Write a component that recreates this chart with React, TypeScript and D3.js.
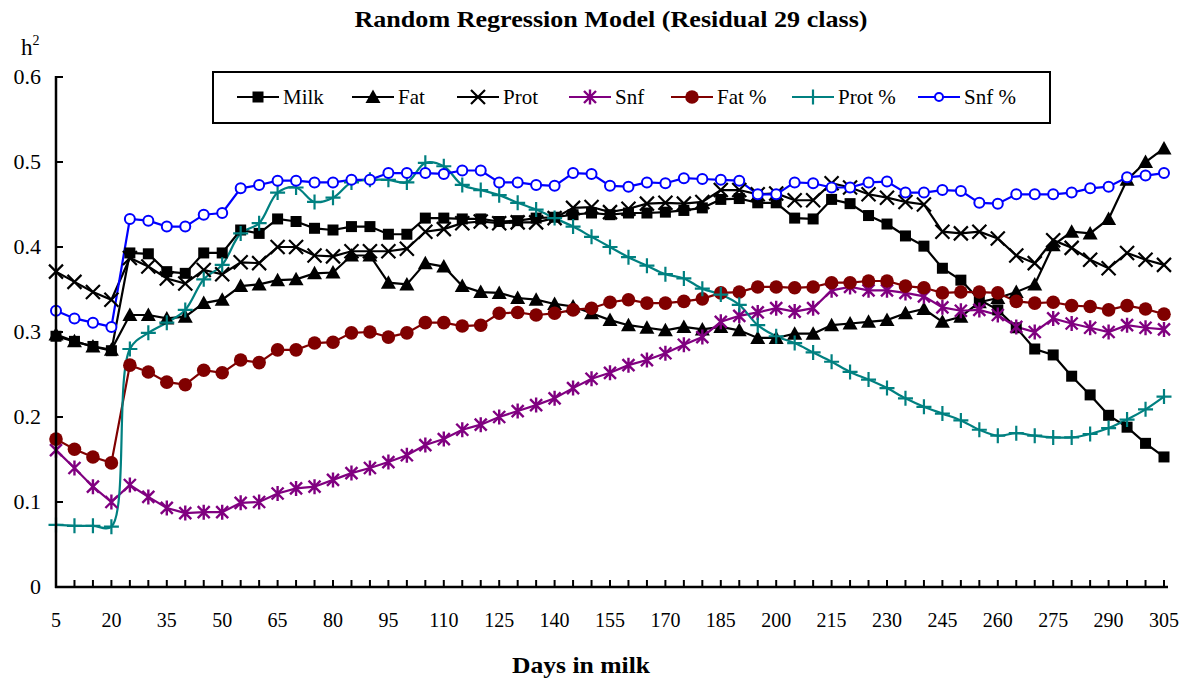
import React from "react";
import * as d3 from "d3";

const days: number[] = [5,10,15,20,25,30,35,40,45,50,55,60,65,70,75,80,85,90,95,100,105,110,115,120,125,130,135,140,145,150,155,160,165,170,175,180,185,190,195,200,205,210,215,220,225,230,235,240,245,250,255,260,265,270,275,280,285,290,295,300,305];
const xTickLabels: number[] = [5,20,35,50,65,80,95,110,125,140,155,170,185,200,215,230,245,260,275,290,305];
const yTicks: number[] = [0,0.1,0.2,0.3,0.4,0.5,0.6];

const milk: number[] = [0.295,0.289,0.283,0.278,0.393,0.392,0.371,0.369,0.393,0.393,0.42,0.416,0.433,0.43,0.422,0.42,0.424,0.424,0.415,0.415,0.434,0.434,0.433,0.433,0.43,0.431,0.434,0.435,0.438,0.44,0.438,0.44,0.44,0.441,0.443,0.446,0.456,0.457,0.452,0.452,0.434,0.433,0.456,0.451,0.437,0.427,0.413,0.401,0.375,0.361,0.338,0.326,0.305,0.28,0.273,0.248,0.226,0.202,0.188,0.169,0.153];
const fat: number[] = [0.297,0.289,0.283,0.279,0.32,0.32,0.316,0.318,0.334,0.338,0.354,0.356,0.361,0.362,0.369,0.37,0.39,0.39,0.358,0.356,0.381,0.377,0.354,0.347,0.346,0.34,0.338,0.333,0.33,0.322,0.314,0.308,0.305,0.302,0.306,0.303,0.306,0.302,0.293,0.293,0.298,0.298,0.308,0.31,0.312,0.314,0.322,0.327,0.312,0.318,0.335,0.34,0.347,0.356,0.402,0.418,0.416,0.433,0.479,0.5,0.516];
const prot: number[] = [0.371,0.359,0.347,0.338,0.387,0.377,0.363,0.357,0.373,0.368,0.382,0.381,0.4,0.4,0.39,0.389,0.395,0.395,0.395,0.398,0.418,0.421,0.428,0.43,0.428,0.429,0.429,0.434,0.446,0.447,0.441,0.445,0.451,0.452,0.451,0.453,0.467,0.467,0.462,0.463,0.455,0.455,0.475,0.47,0.462,0.458,0.453,0.45,0.418,0.416,0.418,0.41,0.39,0.381,0.408,0.399,0.385,0.375,0.393,0.385,0.379];
const snf: number[] = [0.161,0.14,0.118,0.1,0.12,0.106,0.093,0.087,0.088,0.088,0.099,0.1,0.11,0.116,0.118,0.126,0.134,0.14,0.147,0.155,0.167,0.174,0.185,0.191,0.2,0.207,0.214,0.222,0.234,0.245,0.252,0.261,0.267,0.275,0.285,0.294,0.312,0.319,0.323,0.328,0.324,0.328,0.349,0.353,0.349,0.349,0.346,0.342,0.329,0.325,0.326,0.32,0.306,0.3,0.316,0.31,0.305,0.3,0.308,0.305,0.303];
const fatPct: number[] = [0.174,0.162,0.153,0.146,0.261,0.253,0.241,0.238,0.255,0.252,0.267,0.264,0.279,0.279,0.287,0.288,0.299,0.3,0.294,0.299,0.311,0.311,0.307,0.308,0.322,0.323,0.32,0.322,0.326,0.328,0.335,0.338,0.334,0.334,0.336,0.339,0.346,0.347,0.353,0.353,0.352,0.353,0.358,0.358,0.36,0.36,0.354,0.352,0.346,0.347,0.347,0.346,0.336,0.334,0.335,0.331,0.33,0.326,0.331,0.327,0.321];
const protPct: number[] = [0.073,0.072,0.072,0.071,0.28,0.299,0.311,0.326,0.362,0.379,0.416,0.428,0.464,0.47,0.453,0.458,0.476,0.479,0.479,0.476,0.499,0.495,0.473,0.467,0.461,0.452,0.444,0.434,0.424,0.412,0.4,0.388,0.378,0.368,0.363,0.351,0.344,0.332,0.308,0.295,0.287,0.276,0.265,0.253,0.244,0.234,0.222,0.212,0.204,0.196,0.185,0.178,0.181,0.178,0.176,0.176,0.18,0.187,0.197,0.209,0.224];
const snfPct: number[] = [0.325,0.316,0.311,0.306,0.433,0.431,0.424,0.424,0.438,0.44,0.469,0.473,0.478,0.478,0.476,0.476,0.479,0.479,0.487,0.487,0.487,0.486,0.49,0.49,0.476,0.476,0.473,0.472,0.487,0.486,0.472,0.471,0.476,0.475,0.481,0.48,0.479,0.478,0.462,0.462,0.476,0.475,0.47,0.47,0.476,0.477,0.464,0.464,0.467,0.466,0.452,0.451,0.462,0.462,0.462,0.464,0.469,0.471,0.482,0.484,0.487];

type Marker = "square" | "triangle" | "x" | "asterisk" | "dot" | "plus" | "ring";
interface Series { name: string; values: number[]; color: string; marker: Marker; smooth?: boolean; }

const series: Series[] = [
  { name: "Milk", values: milk, color: "#000000", marker: "square" },
  { name: "Fat", values: fat, color: "#000000", marker: "triangle" },
  { name: "Prot", values: prot, color: "#000000", marker: "x" },
  { name: "Snf", values: snf, color: "#800080", marker: "asterisk" },
  { name: "Fat %", values: fatPct, color: "#800000", marker: "dot" },
  { name: "Prot %", values: protPct, color: "#008080", marker: "plus", smooth: true },
  { name: "Snf %", values: snfPct, color: "#0000FF", marker: "ring" },
];

const legendLineX: number[] = [237, 352, 457, 569, 671, 792, 918];

const W = 1189, H = 682;
const x = d3.scaleLinear().domain([5, 305]).range([56, 1164]);
const y = d3.scaleLinear().domain([0, 0.6]).range([587, 77]);

function MarkerShape({ m, cx, cy, color, small }: { m: Marker; cx: number; cy: number; color: string; small?: boolean }) {
  const k = small ? 0.8 : 1;
  switch (m) {
    case "square":
      return <rect x={cx - 5.5 * k} y={cy - 5.5 * k} width={11 * k} height={11 * k} fill={color} />;
    case "triangle":
      return <path d={`M${cx},${cy - 7.5 * k}L${cx + 7.5 * k},${cy + 6 * k}L${cx - 7.5 * k},${cy + 6 * k}Z`} fill={color} />;
    case "x":
      return <path d={`M${cx - 7 * k},${cy - 7 * k}L${cx + 7 * k},${cy + 7 * k}M${cx - 7 * k},${cy + 7 * k}L${cx + 7 * k},${cy - 7 * k}`} stroke={color} strokeWidth={2.2} />;
    case "asterisk":
      return <path d={`M${cx - 6 * k},${cy - 6 * k}L${cx + 6 * k},${cy + 6 * k}M${cx - 6 * k},${cy + 6 * k}L${cx + 6 * k},${cy - 6 * k}M${cx},${cy - 7.5 * k}L${cx},${cy + 7.5 * k}`} stroke={color} strokeWidth={2.4} />;
    case "dot":
      return <circle cx={cx} cy={cy} r={6.8 * k} fill={color} />;
    case "plus":
      return <path d={`M${cx - 7.5 * k},${cy}L${cx + 7.5 * k},${cy}M${cx},${cy - 7.5 * k}L${cx},${cy + 7.5 * k}`} stroke={color} strokeWidth={2.2} />;
    case "ring":
      return <circle cx={cx} cy={cy} r={5 * k} fill="white" stroke={color} strokeWidth={2} />;
  }
  return null;
}

export default function App() {
  const font = "'Liberation Serif', 'Times New Roman', serif";
  return (
    <svg width={W} height={H} style={{ position: "absolute", left: 0, top: 0, background: "#fff" }} fontFamily={font}>
      <rect width={W} height={H} fill="#fff" />
      <text x={611} y={27} textAnchor="middle" fontSize={24} fontWeight="bold" textLength={513} lengthAdjust="spacingAndGlyphs">Random Regression Model (Residual 29 class)</text>
      <text x={21} y={55} fontSize={23}>h<tspan dy={-10} fontSize={14}>2</tspan></text>

      {series.map((s) => {
        const line = d3.line<number>()
          .x((_, i) => x(days[i]))
          .y((v) => y(v))
          .curve(s.smooth ? d3.curveCatmullRom.alpha(0.5) : d3.curveLinear);
        return <path key={s.name + "l"} d={line(s.values) || ""} fill="none" stroke={s.color} strokeWidth={2.2} />;
      })}
      {series.map((s) => (
        <g key={s.name + "m"}>
          {s.values.map((v, i) => (
            <MarkerShape key={i} m={s.marker} cx={x(days[i])} cy={y(v)} color={s.color} />
          ))}
        </g>
      ))}

      <line x1={56} y1={76} x2={56} y2={588} stroke="#000" strokeWidth={2.5} />
      <line x1={55} y1={587} x2={1168} y2={587} stroke="#000" strokeWidth={2.5} />
      {yTicks.map((t) => (
        <g key={"yt" + t}>
          <line x1={56} x2={63} y1={y(t)} y2={y(t)} stroke="#000" strokeWidth={2} />
          <text x={41} y={y(t) + 7} textAnchor="end" fontSize={22}>{t === 0 ? "0" : t.toFixed(1)}</text>
        </g>
      ))}
      {days.map((d) => (
        <line key={"xt" + d} x1={x(d)} x2={x(d)} y1={587} y2={580} stroke="#000" strokeWidth={2} />
      ))}
      {xTickLabels.map((d) => (
        <text key={"xl" + d} x={x(d)} y={627} textAnchor="middle" fontSize={20}>{d}</text>
      ))}
      <text x={581} y={673} textAnchor="middle" fontSize={24} fontWeight="bold" textLength={138} lengthAdjust="spacingAndGlyphs">Days in milk</text>

      <rect x={213} y={72} width={837} height={51} fill="#fff" stroke="#000" strokeWidth={2} />
      {series.map((s, i) => {
        const lx = legendLineX[i];
        return (
          <g key={s.name + "lg"}>
            <line x1={lx} x2={lx + 42} y1={97} y2={97} stroke={s.color} strokeWidth={2.2} />
            <MarkerShape m={s.marker} cx={lx + 21} cy={97} color={s.color} small={s.marker === "ring"} />
            <text x={lx + 46} y={104} fontSize={21}>{s.name}</text>
          </g>
        );
      })}
    </svg>
  );
}
